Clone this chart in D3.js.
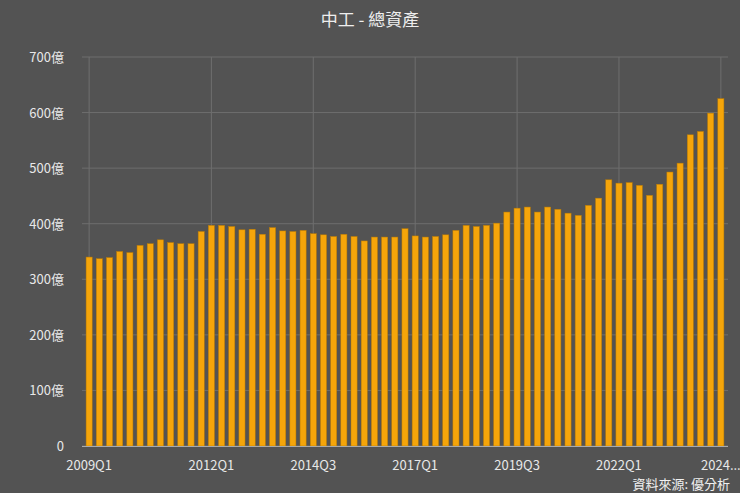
<!DOCTYPE html><html><head><meta charset="utf-8">
<script src="https://d3js.org/d3.v7.min.js"></script>
<style>body{margin:0;background:#535353}text{font-family:"Noto Sans CJK TC","Noto Sans",sans-serif}</style></head><body>
<svg id="c" width="740" height="493"></svg>
<script>
const values=[340,337,339,350,348,361,364,371,366,364,364,386,397,397,395,389,390,381,393,387,386,388,382,380,377,381,377,369,376,376,376,391,378,376,377,380,388,397,395,397,401,421,428,430,421,430,426,419,415,433,446,479,473,474,469,451,471,493,509,560,566,599,625];
const categories=values.map((d,i)=>{const q=i%4+1,y=2009+Math.floor(i/4);return y+"Q"+q;});
const tickLabels={0:"2009Q1",12:"2012Q1",22:"2014Q3",32:"2017Q1",42:"2019Q3",52:"2022Q1",62:"2024..."};
const yTicks=[0,100,200,300,400,500,600,700];
const svg=d3.select("#c");
svg.append("rect").attr("width",740).attr("height",493).attr("fill","#535353");
const x=d3.scaleBand().domain(categories).range([82,728]).padding(0.4);
const y=d3.scaleLinear().domain([0,700]).range([446,57]);
svg.append("g").selectAll("line").data(yTicks).join("line").attr("x1",82).attr("x2",728).attr("y1",d=>y(d)).attr("y2",d=>y(d)).attr("stroke","#6e6e6e");
svg.append("g").selectAll("line").data(Object.keys(tickLabels).map(Number)).join("line").attr("x1",i=>x(categories[i])+x.bandwidth()/2).attr("x2",i=>x(categories[i])+x.bandwidth()/2).attr("y1",57).attr("y2",446).attr("stroke","#6e6e6e");
svg.append("g").selectAll("text").data(yTicks).join("text").attr("x",64).attr("y",d=>y(d)+5).attr("text-anchor","end").attr("fill","#e8e8e8").attr("font-size",13).text(d=>d===0?"0":d+"億");
svg.append("g").selectAll("rect").data(values).join("rect").attr("x",(d,i)=>x(categories[i])).attr("width",x.bandwidth()).attr("y",d=>y(d)).attr("height",d=>y(0)-y(d)).attr("fill","#f5a50a").attr("stroke","#b97a05").attr("stroke-width",0.5);
svg.append("line").attr("x1",82).attr("x2",728).attr("y1",446.5).attr("y2",446.5).attr("stroke","#aaa");
svg.append("g").selectAll("text").data(Object.entries(tickLabels)).join("text").attr("x",([i])=>x(categories[+i])+x.bandwidth()/2).attr("y",470).attr("text-anchor","middle").attr("fill","#e8e8e8").attr("font-size",13).text(d=>d[1]);
svg.append("text").attr("x",370).attr("y",26).attr("text-anchor","middle").attr("fill","#eee").attr("font-size",17).text("中工 - 總資產");
svg.append("text").attr("x",730).attr("y",489).attr("text-anchor","end").attr("fill","#f0f0f0").attr("font-size",13).text("資料來源: 優分析");
</script></body></html>
